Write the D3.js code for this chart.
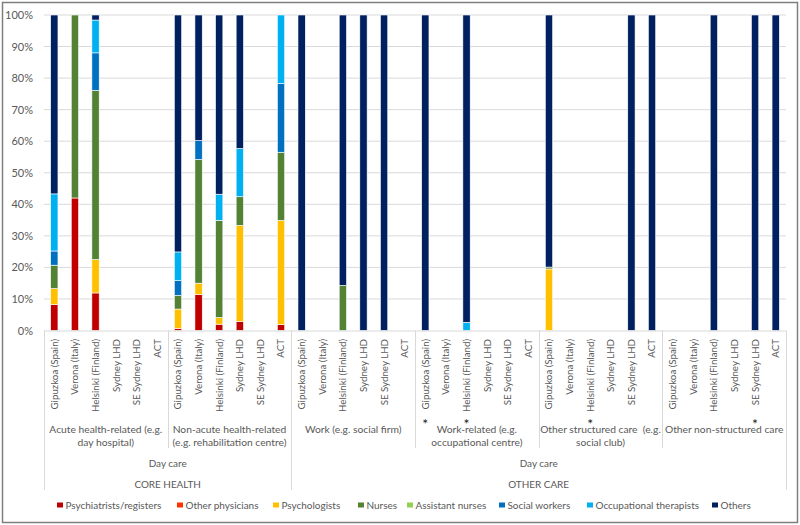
<!DOCTYPE html>
<html>
<head>
<meta charset="utf-8">
<script src="https://cdn.jsdelivr.net/npm/d3@7"></script>
<style>
  html, body { margin: 0; padding: 0; background: #fff; }
  svg { display: block; font-family: Lato, "Open Sans", sans-serif; }
</style>
</head>
<body>
<div id="chart"></div>
<script>
(function () {
  var W = 800, H = 525;

  // sites, repeated in each care group
  var sites = ['Gipuzkoa (Spain)', 'Verona (Italy)', 'Helsinki (Finland)', 'Sydney LHD', 'SE Sydney LHD', 'ACT'];

  var groupLabels = [
    ['Acute health-related (e.g.', 'day hospital)'],
    ['Non-acute health-related', '(e.g. rehabilitation centre)'],
    ['Work (e.g. social firm)'],
    ['Work-related (e.g.', 'occupational centre)'],
    ['Other structured care  (e.g.', 'social club)'],
    ['Other non-structured care']
  ];

  var sectors = [
    { name: 'CORE HEALTH', sub: 'Day care', from: 0, to: 2 },
    { name: 'OTHER CARE', sub: 'Day care', from: 2, to: 6 }
  ];

  // categories flagged with an asterisk
  var starred = [18, 20, 26, 34];

  var seriesNames = ['Psychiatrists/registers', 'Other physicians', 'Psychologists', 'Nurses',
    'Assistant nurses', 'Social workers', 'Occupational therapists', 'Others'];

  var COLORS = ['#c00000', '#ff3300', '#ffc000', '#548235', '#92d050', '#0070c0', '#00b0f0', '#002060'];

  // values in %, 36 categories (6 groups x 6 sites)
  var psychiatrists = [8.3, 42, 11.9, 0, 0, 0,  0.7, 11.4, 2.0, 2.9, 0, 1.9,  0, 0, 0, 0, 0, 0,
    0, 0, 0, 0, 0, 0,  0, 0, 0, 0, 0, 0,  0, 0, 0, 0, 0, 0];
  var otherPhysicians = [0, 0, 0, 0, 0, 0,  0, 0, 0, 0, 0, 0,  0, 0, 0, 0, 0, 0,
    0, 0, 0, 0, 0, 0,  0, 0, 0, 0, 0, 0,  0, 0, 0, 0, 0, 0];
  var psychologists = [5.0, 0, 10.6, 0, 0, 0,  6.1, 3.6, 2.1, 30.4, 0, 33.0,  0, 0, 0, 0, 0, 0,
    0, 0, 0, 0, 0, 0,  19.5, 0, 0, 0, 0, 0,  0, 0, 0, 0, 0, 0];
  var nurses = [7.4, 58, 53.6, 0, 0, 0,  4.3, 39.2, 30.8, 9.1, 0, 21.6,  0, 0, 14.3, 0, 0, 0,
    0, 0, 0, 0, 0, 0,  0.6, 0, 0, 0, 0, 0,  0, 0, 0, 0, 0, 0];
  var assistantNurses = [0, 0, 0, 0, 0, 0,  0, 0, 0, 0, 0, 0,  0, 0, 0, 0, 0, 0,
    0, 0, 0, 0, 0, 0,  0, 0, 0, 0, 0, 0,  0, 0, 0, 0, 0, 0];
  var socialWorkers = [4.5, 0, 11.9, 0, 0, 0,  4.7, 6.0, 0, 0, 0, 21.8,  0, 0, 0, 0, 0, 0,
    0, 0, 0, 0, 0, 0,  0, 0, 0, 0, 0, 0,  0, 0, 0, 0, 0, 0];
  var occTherapists = [18.1, 0, 10.4, 0, 0, 0,  9.1, 0, 8.3, 15.3, 0, 21.7,  0, 0, 0, 0, 0, 0,
    0, 0, 2.6, 0, 0, 0,  0, 0, 0, 0, 0, 0,  0, 0, 0, 0, 0, 0];
  var others = [56.7, 0, 1.6, 0, 0, 0,  75.1, 39.8, 56.8, 42.3, 0, 0,  100, 0, 85.7, 100, 100, 0,
    100, 0, 97.4, 0, 0, 0,  79.9, 0, 0, 0, 100, 100,  0, 0, 100, 0, 100, 100];

  var yTicks = [0, 10, 20, 30, 40, 50, 60, 70, 80, 90, 100];

  var seriesValues = [psychiatrists, otherPhysicians, psychologists, nurses,
    assistantNurses, socialWorkers, occTherapists, others];

  // build table rows for d3.stack
  var rows = [];
  groupLabels.forEach(function (g, gi) {
    sites.forEach(function (s, si) {
      var idx = gi * sites.length + si;
      var row = { id: idx, site: s, group: gi };
      seriesNames.forEach(function (n, k) { row[n] = seriesValues[k][idx]; });
      rows.push(row);
    });
  });

  var left = 44, right = 786, top = 15, base = 330.5;
  var axisGray = '#d9d9d9';
  var textGray = '#595959';

  var svg = d3.select('#chart').append('svg')
    .attr('width', W).attr('height', H);

  // font size that makes a sample string as wide as in the original (Calibri-ish)
  function fitSize(str, target) {
    var t = svg.append('text').style('font-size', '10px').text(str);
    var len = t.node().getComputedTextLength();
    t.remove();
    return (len > 0 ? 10 * target / len : 10.5).toFixed(2) + 'px';
  }
  var siteFont = fitSize('Helsinki (Finland)', 73);
  var groupFont = fitSize('Acute health-related (e.g.', 113);
  var legendFont = fitSize('Psychiatrists/registers', 96);
  var sectorFont = fitSize('Day care', 38);

  // outer frame
  svg.append('rect')
    .attr('x', 2.5).attr('y', 2.5)
    .attr('width', W - 5).attr('height', H - 5)
    .attr('fill', '#fff')
    .attr('stroke', '#7f7f7f')
    .attr('stroke-width', 1.5);

  var x = d3.scaleBand()
    .domain(rows.map(function (d) { return d.id; }))
    .range([left, right])
    .paddingInner(0.645)
    .paddingOuter(0.3225);

  var y = d3.scaleLinear().domain([0, 100]).range([base, top]);

  // gridlines
  svg.append('g')
    .selectAll('line')
    .data(yTicks.slice(1))
    .join('line')
    .attr('x1', left).attr('x2', right)
    .attr('y1', function (d) { return y(d); })
    .attr('y2', function (d) { return y(d); })
    .attr('stroke', axisGray)
    .attr('stroke-width', 1);

  // y axis labels
  var yAxis = svg.append('g')
    .attr('transform', 'translate(' + left + ',0)')
    .call(d3.axisLeft(y).tickValues(yTicks).tickSize(0).tickPadding(11)
      .tickFormat(function (d) { return d + '%'; }));
  yAxis.select('.domain').remove();
  yAxis.selectAll('text')
    .attr('fill', textGray)
    .style('font-size', '11px')
    .style('font-family', 'Lato, sans-serif');

  // stacked bars
  var stack = d3.stack().keys(seriesNames);
  var layers = stack(rows);

  svg.append('g')
    .selectAll('g')
    .data(layers)
    .join('g')
    .attr('fill', function (d, i) { return COLORS[i]; })
    .selectAll('rect')
    .data(function (d) { return d.filter(function (p) { return p[1] - p[0] > 0; }); })
    .join('rect')
    .attr('x', function (p) { return x(p.data.id); })
    .attr('width', x.bandwidth())
    .attr('y', function (p) { return y(p[1]); })
    .attr('height', function (p) { return y(p[0]) - y(p[1]); })
    .attr('stroke', '#fff')
    .attr('stroke-width', 0.6);

  // category axis: baseline and group separators
  var step = x.step();
  var nSites = sites.length;
  var axisG = svg.append('g').attr('stroke', axisGray).attr('stroke-width', 1);

  axisG.append('line')
    .attr('x1', left).attr('x2', right)
    .attr('y1', base + 0.5).attr('y2', base + 0.5);

  var sepX = d3.range(groupLabels.length + 1).map(function (i) { return left + i * nSites * step; });
  var sectorEdges = [];
  sectors.forEach(function (s) { sectorEdges.push(s.from, s.to); });

  axisG.selectAll('line.sep')
    .data(sepX)
    .join('line')
    .attr('class', 'sep')
    .attr('x1', function (d) { return Math.round(d) + 0.5; })
    .attr('x2', function (d) { return Math.round(d) + 0.5; })
    .attr('y1', base)
    .attr('y2', function (d, i) { return sectorEdges.indexOf(i) >= 0 ? 490 : 448; });

  // site labels, rotated
  svg.append('g')
    .selectAll('text')
    .data(rows)
    .join('text')
    .attr('transform', function (d) {
      return 'translate(' + (x(d.id) + x.bandwidth() / 2) + ',339) rotate(-90)';
    })
    .attr('text-anchor', 'end')
    .attr('dy', '0.35em')
    .attr('fill', textGray)
    .style('font-size', siteFont)
    .text(function (d) { return d.site; });

  // asterisks
  svg.append('g')
    .selectAll('text')
    .data(starred)
    .join('text')
    .attr('x', function (d) { return x(d) + x.bandwidth() / 2; })
    .attr('y', 429)
    .attr('text-anchor', 'middle')
    .attr('fill', '#222')
    .style('font-size', '14px')
    .text('*');

  // group labels
  var gl = svg.append('g')
    .selectAll('text')
    .data(groupLabels)
    .join('text')
    .attr('x', function (d, i) { return left + (i + 0.5) * nSites * step; })
    .attr('y', 433)
    .attr('text-anchor', 'middle')
    .attr('fill', textGray)
    .style('font-size', groupFont)
    .style('white-space', 'pre');
  gl.selectAll('tspan')
    .data(function (d) { return d; })
    .join('tspan')
    .attr('x', function () { return d3.select(this.parentNode).attr('x'); })
    .attr('dy', function (d, i) { return i === 0 ? 0 : 13; })
    .text(function (d) { return d; });

  // sector labels
  sectors.forEach(function (s) {
    var cx = left + (s.from + s.to) / 2 * nSites * step;
    svg.append('text')
      .attr('x', cx).attr('y', 467)
      .attr('text-anchor', 'middle')
      .attr('fill', textGray)
      .style('font-size', sectorFont)
      .text(s.sub);
    svg.append('text')
      .attr('x', cx).attr('y', 488)
      .attr('text-anchor', 'middle')
      .attr('fill', textGray)
      .style('font-size', sectorFont)
      .text(s.name);
  });

  // legend
  var legendX = [57, 177, 273, 358, 407, 499, 587, 712];
  var lg = svg.append('g')
    .selectAll('g')
    .data(seriesNames)
    .join('g')
    .attr('transform', function (d, i) { return 'translate(' + legendX[i] + ',505)'; });
  lg.append('rect')
    .attr('x', 0).attr('y', -2.5)
    .attr('width', 6).attr('height', 5)
    .attr('fill', function (d, i) { return COLORS[i]; });
  lg.append('text')
    .attr('x', 8.5).attr('dy', '0.35em')
    .attr('fill', textGray)
    .style('font-size', legendFont)
    .text(function (d) { return d; });
})();
</script>
</body>
</html>
